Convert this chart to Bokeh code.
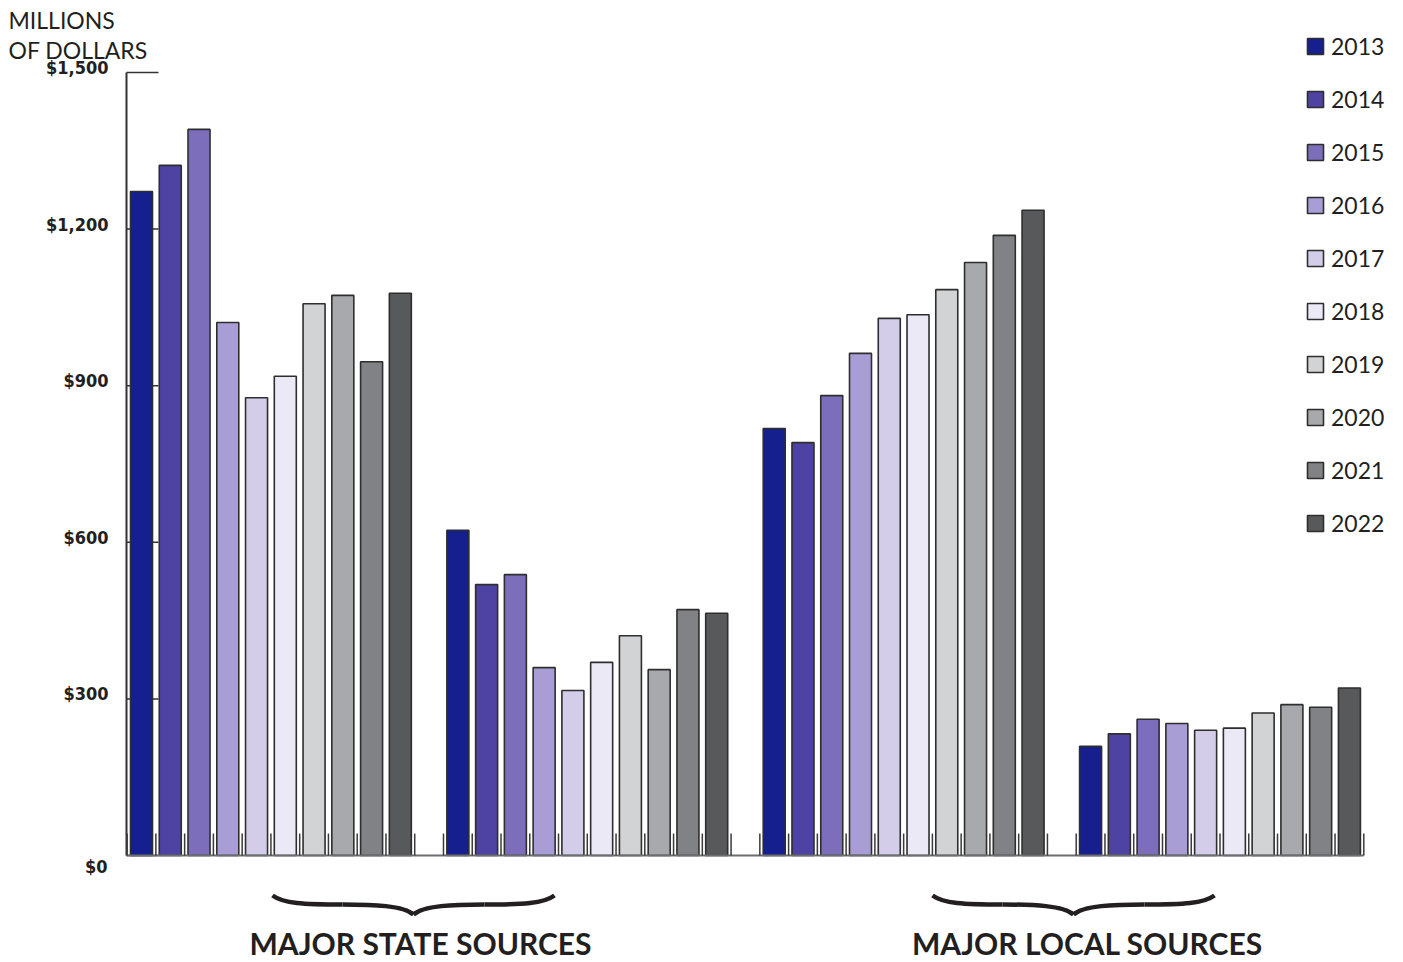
from bokeh.plotting import figure
from bokeh.models import Range1d, Legend, LegendItem, ColumnDataSource
from bokeh.core.properties import value
from bokeh.embed import file_html
from bokeh.resources import INLINE

# ---------------- data ----------------
years = ["2013", "2014", "2015", "2016", "2017", "2018", "2019", "2020", "2021", "2022"]
groups = ["State source 1", "State source 2", "Local source 1", "Local source 2"]

v2013 = [1272, 623, 818, 209]
v2014 = [1322, 519, 791, 233]
v2015 = [1391, 538, 881, 261]
v2016 = [1021, 360, 962, 253]
v2017 = [877, 316, 1029, 240]
v2018 = [918, 370, 1036, 244]
v2019 = [1057, 421, 1084, 273]
v2020 = [1073, 356, 1136, 289]
v2021 = [946, 471, 1188, 284]
v2022 = [1077, 464, 1236, 321]
values = [v2013, v2014, v2015, v2016, v2017, v2018, v2019, v2020, v2021, v2022]

colors = ["#151f8d", "#4e43a2", "#7d6ebb", "#a99dd6", "#d4cdea",
          "#ebe9f5", "#d2d3d5", "#a7a9ac", "#808285", "#58595b"]

ytick_values = [0, 300, 600, 900, 1200, 1500]
ytick_labels = ["$0", "$300", "$600", "$900", "$1,200", "$1,500"]
title_lines = ["MILLIONS", "OF DOLLARS"]
group_titles = ["MAJOR STATE SOURCES", "MAJOR LOCAL SOURCES"]

# ---------------- layout helpers ----------------
W, H = 1403, 962
GROUP_STEP = 11          # bars per group + one gap slot
BAR_W = 0.765
AXIS_TOP = 1500


def dx(px):   # canvas pixel x -> data x
    return (px - 141) / 28.76


def dy(py):   # canvas pixel y -> data y
    return (855 - py) / 0.522


TXT = "#231f20"
AX = "#333333"
p = figure(width=W, height=H, output_backend="svg", toolbar_location=None,
           x_range=Range1d(dx(0), dx(W)), y_range=Range1d(dy(H), dy(0)),
           x_axis_location=None, y_axis_location=None,
           min_border_left=0, min_border_right=0, min_border_top=0, min_border_bottom=0,
           outline_line_color=None)
p.grid.visible = False

n_bars = len(years)
tick_x = [g * GROUP_STEP + k - 0.5 for g in range(len(groups)) for k in range(n_bars + 1)]

# y axis: inner ticks (behind bars), axis line, labels
nt = len(ytick_values)
p.segment(x0=[dx(126)] * nt, y0=ytick_values, x1=[dx(158)] * nt, y1=ytick_values,
          line_color=AX, line_width=1.5)
p.segment(x0=[dx(126)], y0=[0], x1=[dx(126)], y1=[AXIS_TOP], line_color=AX, line_width=2)
p.text(x=[dx(108)] * (nt - 1), y=ytick_values[1:], text=ytick_labels[1:],
       text_align="right", text_baseline="middle", y_offset=-5,
       text_font=value("DejaVu Sans Condensed"), text_font_style="bold",
       text_font_size="18px", text_color=TXT)
p.text(x=[dx(107)], y=ytick_values[:1], text=ytick_labels[:1],
       text_align="right", text_baseline="middle", y_offset=11,
       text_font=value("DejaVu Sans Condensed"), text_font_style="bold",
       text_font_size="18px", text_color=TXT)

# bars
renderers = []
for i, (yr, vals, c) in enumerate(zip(years, values, colors)):
    src = ColumnDataSource(dict(x=[g * GROUP_STEP + i for g in range(len(groups))],
                                top=vals, grp=groups))
    r = p.vbar(x="x", top="top", bottom=0, width=BAR_W, source=src,
               fill_color=c, line_color="#2e2e2e", line_width=1.6)
    renderers.append(r)

# baseline and small tick marks between bars
p.segment(x0=[dx(126)], y0=[0], x1=[tick_x[-1]], y1=[0], line_color="#6d6e71", line_width=2)
p.segment(x0=tick_x, y0=[0] * len(tick_x), x1=tick_x, y1=[42] * len(tick_x),
          line_color="#3a3a3a", line_width=1.5)

# legend
legend = Legend(items=[LegendItem(label=yr, renderers=[r]) for yr, r in zip(years, renderers)],
                location=(1305, 425), orientation="vertical",
                glyph_width=20, glyph_height=20, label_standoff=6, spacing=25,
                padding=0, margin=0, border_line_color=None, background_fill_alpha=0,
                label_text_font="Lato", label_text_font_size="23px",
                label_text_color=TXT, label_height=20)
p.add_layout(legend)

# unit title
p.text(x=[dx(8)] * 2, y=[dy(19.5), dy(49.5)], text=title_lines,
       text_align="left", text_baseline="middle",
       text_font=value("Lato"), text_font_size="23px", text_color=TXT)

# braces
brace_tips = [(413, 914), (1073, 914)]
seg1 = [(-141, -19), (-130, -11), (-110, -10), (-71, -10)]
seg2 = [(-71, -10), (-40, -10), (-10, -9), (0, 0)]
bx0, by0, bx1, by1, bcx0, bcy0, bcx1, bcy1 = [], [], [], [], [], [], [], []
for tx, ty in brace_tips:
    for sgn in (1, -1):
        for seg in (seg1, seg2):
            pts = [(tx + sgn * a, ty + b) for a, b in seg]
            bx0.append(dx(pts[0][0])); by0.append(dy(pts[0][1]))
            bcx0.append(dx(pts[1][0])); bcy0.append(dy(pts[1][1]))
            bcx1.append(dx(pts[2][0])); bcy1.append(dy(pts[2][1]))
            bx1.append(dx(pts[3][0])); by1.append(dy(pts[3][1]))
p.bezier(x0=bx0, y0=by0, x1=bx1, y1=by1, cx0=bcx0, cy0=bcy0, cx1=bcx1, cy1=bcy1,
         line_color=TXT, line_width=4.5)

# group titles
p.text(x=[dx(420), dx(1087)], y=[dy(942)] * 2, text=group_titles,
       text_align="center", text_baseline="middle",
       text_font=value("Lato"), text_font_style="bold", text_font_size="30px",
       text_color=TXT)

open("out.html", "w").write(file_html(p, INLINE))
